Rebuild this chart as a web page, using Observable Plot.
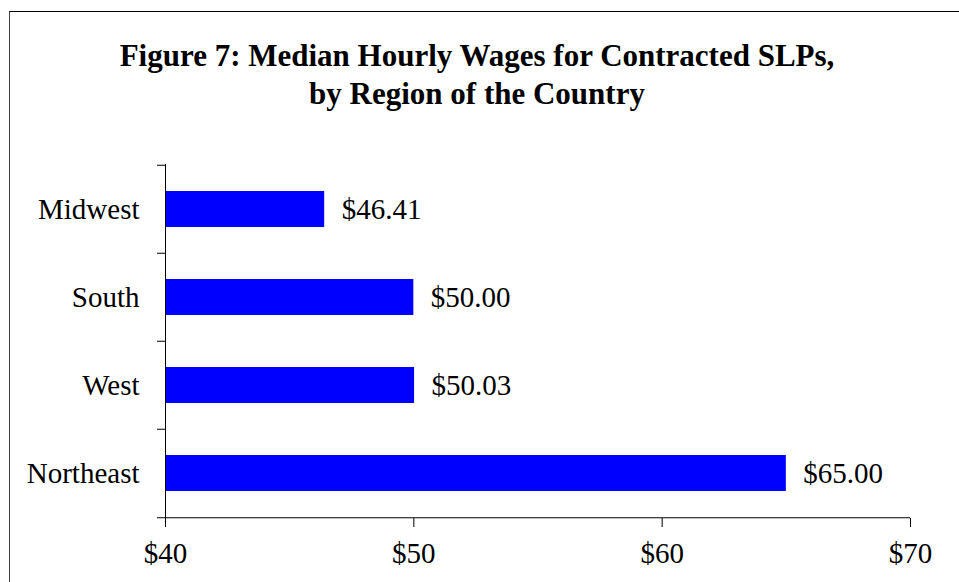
<!DOCTYPE html>
<html><head><meta charset="utf-8">
<script src="https://cdn.jsdelivr.net/npm/d3@7"></script>
<script src="https://cdn.jsdelivr.net/npm/@observablehq/plot@0.6"></script>
<style>
body{margin:0;background:#fff;}
#wrap{position:relative;width:959px;height:582px;overflow:hidden;font-family:"Liberation Serif","Times New Roman",serif;background:#fff;}
#frame{position:absolute;left:9px;top:11px;width:1000px;height:1000px;border-left:1px solid #444;border-top:1px solid #000;}
#title{position:absolute;left:0;width:954px;top:37px;text-align:center;font-weight:bold;font-size:31px;line-height:38px;color:#000;}
#chart{position:absolute;left:0;top:130px;}
</style></head>
<body><div id="wrap"><div id="frame"></div><div id="title">Figure 7: Median Hourly Wages for Contracted SLPs,<br>by Region of the Country</div><div id="chart"></div></div>
<script>
const regions = ["Midwest", "South", "West", "Northeast"];
const wages = [46.41, 50.00, 50.03, 65.00];
const xTicks = [40, 50, 60, 70];
const xTickLabels = ["$40", "$50", "$60", "$70"];
const data = regions.map((r, i) => ({region: r, wage: wages[i]}));

const W = 959, H = 452, mT = 34, mB = 64, mL = 165, mR = 49;
const step = (H - mT - mB) / regions.length;
const last = regions[regions.length - 1];

const chart = Plot.plot({
  width: W, height: H,
  marginTop: mT, marginBottom: mB, marginLeft: mL, marginRight: mR,
  style: {fontFamily: '"Liberation Serif","Times New Roman",serif', fontSize: "29px", color: "#000", background: "transparent", overflow: "visible"},
  x: {domain: [xTicks[0], xTicks[xTicks.length - 1]]},
  y: {domain: regions, paddingInner: 0.59, paddingOuter: 0.295},
  marks: [
    Plot.barX(data, {y: "region", x1: xTicks[0], x2: "wage", fill: "#0000ff"}),
    Plot.text(data, {y: "region", x: "wage", text: d => "$" + d.wage.toFixed(2), dx: 17, textAnchor: "start", fill: "#000", fontSize: 29}),
    Plot.ruleX([xTicks[0]], {stroke: "#000"}),
    Plot.ruleY([last], {dy: step / 2, stroke: "#000"}),
    Plot.axisY({tickSize: 0, tickPadding: 26, label: null, fontSize: 29}),
    Plot.axisY(regions, {tickSize: 8, dy: -step / 2, tickFormat: () => "", label: null, stroke: "#000", strokeOpacity: 1}),
    Plot.axisY([last], {tickSize: 8, dy: step / 2, tickFormat: () => "", label: null, stroke: "#000", strokeOpacity: 1}),
    Plot.axisX(xTicks, {tickSize: 9, tickPadding: 15, tickFormat: d => xTickLabels[xTicks.indexOf(d)], label: null, fontSize: 29, stroke: "#000", strokeOpacity: 1})
  ]
});
document.getElementById("chart").appendChild(chart);
</script>
</body></html>
